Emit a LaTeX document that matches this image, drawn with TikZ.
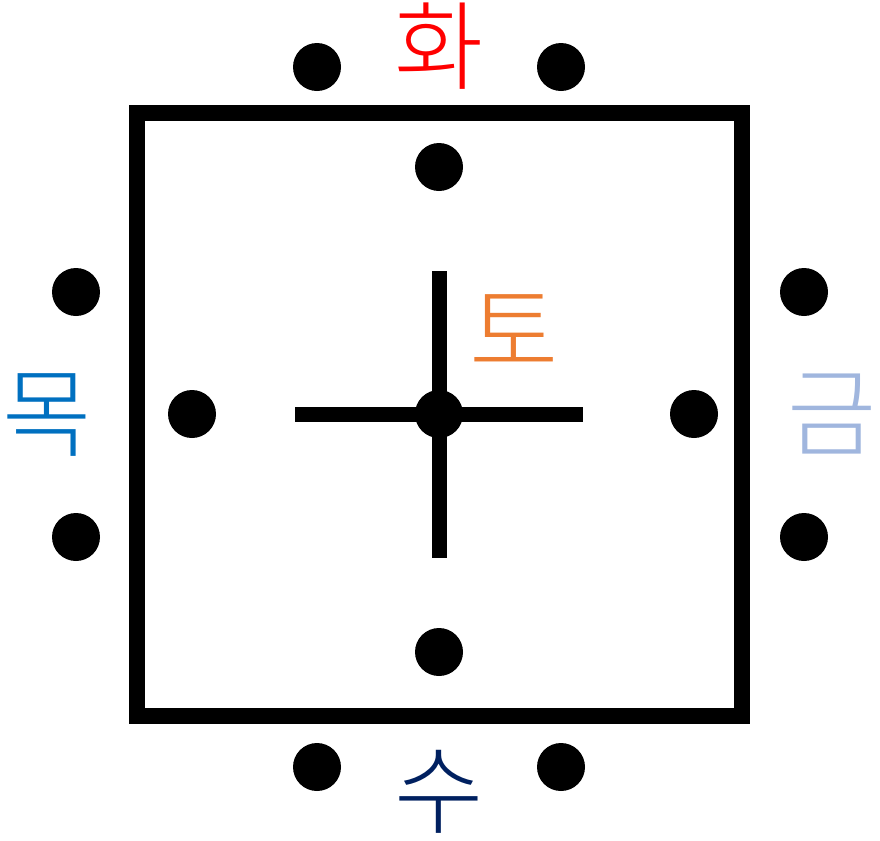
\documentclass[tikz,border=0pt]{standalone}
\usepackage{fontspec}
\IfFontExistsTF{Noto Sans CJK KR Light}{\newfontfamily\kr{Noto Sans CJK KR Light}}{\newfontfamily\kr{Noto Sans CJK KR}}
\definecolor{hwa}{RGB}{255,0,0}
\definecolor{mok}{RGB}{0,112,192}
\definecolor{to}{RGB}{237,125,49}
\definecolor{geum}{RGB}{160,182,222}
\definecolor{su}{RGB}{0,32,96}
\begin{document}
\begin{tikzpicture}[x=0.05cm,y=-0.05cm,
  dot/.style={circle,fill=black,inner sep=0pt,minimum size=2.4cm},
  frame/.style={line width=0.8cm,line join=miter},
  arm/.style={line width=0.75cm},
  lab/.style={inner sep=0pt,font=\kr\fontsize{138pt}{138pt}\selectfont}]
\useasboundingbox (0,0) rectangle (880,840);
\draw[frame] (137,113) rectangle (742,716);
\coordinate (vt) at (439,271);
\coordinate (vb) at (439,558);
\coordinate (hl) at (295,414);
\coordinate (hr) at (583,414);
\draw[arm] (vt) -- (vb);
\draw[arm] (hl) -- (hr);
\node[dot] (c) at (439,414) {};
\node[dot] (ti) at (439,167) {};
\node[dot] (bi) at (439,652) {};
\node[dot] (li) at (192,414) {};
\node[dot] (ri) at (694,414) {};
\node[dot] (tl) at (317,67) {};
\node[dot] (tr) at (561,67) {};
\node[dot] (bl) at (317,767) {};
\node[dot] (br) at (561,767) {};
\node[dot] (lt) at (76,292) {};
\node[dot] (lb) at (76,537) {};
\node[dot] (rt) at (804,292) {};
\node[dot] (rb) at (804,537) {};
\node[lab,text=hwa] (fire) at (439,46) {화};
\node[lab,text=mok] (wood) at (47,415) {목};
\node[lab,text=to] (earth) at (514,331) {토};
\node[lab,text=geum] (metal) at (832,414) {금};
\node[lab,text=su] (water) at (439,792) {수};
\end{tikzpicture}
\end{document}
